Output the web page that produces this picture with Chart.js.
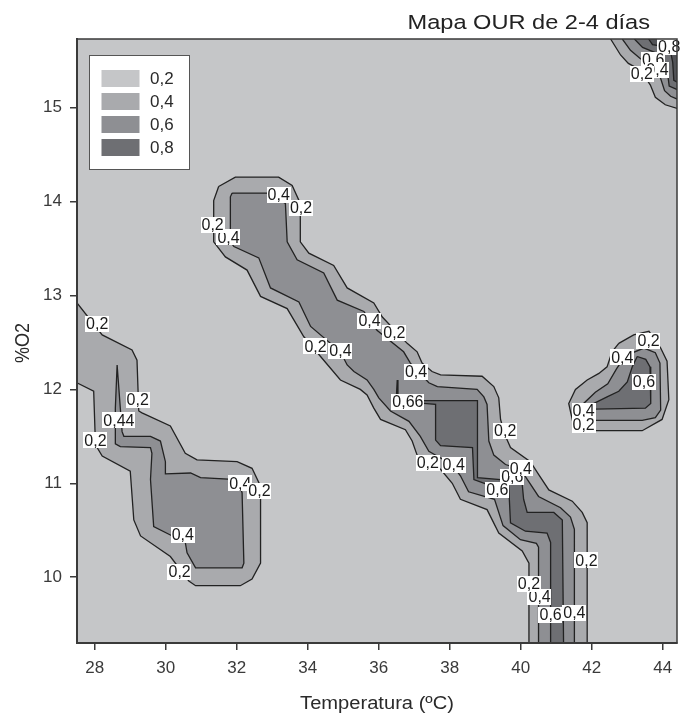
<!DOCTYPE html>
<html>
<head>
<meta charset="utf-8">
<script src="https://cdn.jsdelivr.net/npm/chart.js@4.4.0/dist/chart.umd.min.js"></script>
<style>
  html, body { margin: 0; padding: 0; background: #ffffff; }
  canvas { display: block; }
</style>
</head>
<body>
<canvas id="c" width="684" height="713"></canvas>
<script>
// ---------------- DATA ----------------
const chartTitle = 'Mapa OUR de 2-4 días';
const xTitle = 'Temperatura (ºC)';
const yTitle = '%O2';
const xTicks = [28, 30, 32, 34, 36, 38, 40, 42, 44];
const yTicks = [10, 11, 12, 13, 14, 15];
const xRange = [27.5, 44.4];
const yRange = [9.3, 15.73];
const levelLabels = ['0,2', '0,4', '0,6', '0,8'];

// contour polygons [temperature, %O2]
const leftBlob02 = [[27.3,12.92],[27.5,12.92],[28.21,12.58],[29.05,12.42],[29.19,12.31],[29.24,11.77],[29.33,11.75],[30.13,11.61],[30.55,11.32],[30.88,11.25],[32.01,11.23],[32.43,11.16],[32.67,10.97],[32.67,10.15],[32.43,9.98],[32.10,9.91],[30.84,9.91],[30.65,9.96],[30.13,10.22],[29.29,10.44],[29.10,10.61],[29.00,11.13],[28.21,11.29],[28.02,11.41],[27.97,11.98],[27.5,12.07],[27.3,12.07],[27.3,12.92]];
const leftBlob04 = [[28.63,12.26],[28.72,11.80],[28.77,11.55],[28.82,11.50],[29.57,11.50],[29.85,11.45],[29.99,11.23],[29.99,11.10],[30.70,11.11],[30.98,11.06],[32.01,11.04],[32.15,10.90],[32.20,10.15],[32.15,10.10],[30.84,10.10],[30.60,10.26],[30.55,10.37],[30.13,10.45],[29.66,10.54],[29.57,11.04],[29.61,11.32],[29.57,11.38],[28.72,11.39],[28.58,11.42],[28.58,11.80],[28.63,12.26]];
const band02 = [[31.49,14.16],[31.96,14.26],[33.18,14.26],[33.56,14.17],[33.79,13.98],[33.79,13.57],[34.03,13.45],[34.73,13.32],[35.11,13.08],[35.86,12.92],[36.10,12.77],[36.80,12.49],[37.08,12.40],[37.22,12.28],[37.50,12.19],[37.74,12.155],[38.91,12.14],[39.24,12.03],[39.38,11.91],[39.43,11.68],[39.57,11.50],[39.71,11.38],[40.27,11.23],[40.51,11.09],[40.79,10.93],[41.45,10.81],[41.73,10.69],[41.87,10.58],[41.87,9.1],[40.23,9.1],[40.23,10.15],[40.04,10.28],[39.38,10.47],[39.05,10.72],[38.30,10.83],[38.07,11.00],[37.74,11.15],[37.08,11.30],[36.94,11.45],[36.75,11.57],[36.05,11.68],[35.86,11.80],[35.67,11.94],[35.48,12.00],[34.92,12.10],[34.36,12.35],[33.89,12.56],[33.42,12.86],[32.67,12.99],[32.29,13.27],[31.68,13.41],[31.35,13.57],[31.35,14.01],[31.49,14.16]];
const band04 = [[31.87,14.09],[32.86,14.09],[33.37,13.98],[33.42,13.57],[33.70,13.38],[34.45,13.24],[34.83,12.95],[35.58,12.83],[35.95,12.63],[36.70,12.40],[36.89,12.28],[37.41,12.07],[37.65,12.03],[38.77,12.00],[38.96,11.92],[39.05,11.84],[39.10,11.45],[39.24,11.30],[39.57,11.20],[39.99,11.15],[40.22,11.02],[40.50,10.86],[41.12,10.74],[41.40,10.64],[41.51,10.51],[41.51,9.1],[40.50,9.1],[40.50,10.32],[40.44,10.36],[39.99,10.40],[39.50,10.55],[39.26,10.83],[38.53,10.91],[38.30,11.08],[38.08,11.19],[37.74,11.27],[37.41,11.34],[37.17,11.50],[36.85,11.66],[36.33,11.77],[36.00,11.91],[35.86,12.00],[35.67,12.10],[35.30,12.19],[35.11,12.26],[34.92,12.40],[34.08,12.67],[33.75,12.93],[32.95,13.08],[32.62,13.40],[31.92,13.52],[31.82,13.57],[31.82,14.05],[31.87,14.09]];
const band06 = [[36.52,12.10],[36.54,11.94],[36.61,11.88],[37.26,11.88],[38.78,11.88],[38.78,11.06],[39.43,11.04],[40.04,10.99],[40.08,10.83],[40.18,10.69],[40.93,10.69],[41.17,10.61],[41.21,9.1],[40.84,9.1],[40.84,10.37],[40.74,10.47],[40.13,10.49],[39.71,10.58],[39.66,10.97],[39.05,10.99],[38.68,11.04],[38.64,11.38],[37.74,11.40],[37.60,11.46],[37.60,11.84],[37.26,11.85],[36.55,11.85],[36.50,11.95],[36.52,12.10]];
const rightBlob02 = [[42.76,12.49],[43.18,12.58],[43.61,12.62],[43.94,12.44],[44.12,12.30],[44.17,11.89],[43.98,11.68],[43.42,11.56],[42.10,11.56],[41.49,11.61],[41.35,11.85],[41.54,12.00],[41.87,12.10],[42.20,12.17],[42.43,12.24],[42.57,12.40],[42.76,12.49]];
const rightBlob04 = [[41.68,11.73],[41.77,11.85],[42.10,11.97],[42.45,12.06],[42.70,12.22],[42.95,12.36],[43.47,12.44],[43.79,12.39],[43.92,12.28],[43.94,11.78],[43.79,11.70],[43.42,11.67],[42.06,11.67],[41.68,11.73]];
const rightBlob06 = [[43.28,12.35],[43.52,12.32],[43.64,12.24],[43.66,11.85],[43.51,11.80],[42.10,11.79],[42.06,11.85],[42.43,11.92],[42.76,11.98],[43.00,12.08],[43.14,12.24],[43.28,12.35]];
const corner02 = [[42.53,15.73],[42.81,15.56],[43.03,15.47],[43.37,15.40],[43.65,15.24],[43.79,15.11],[44.07,15.03],[44.41,14.99],[44.6,14.99],[44.6,15.9],[42.45,15.9],[42.53,15.73]];
const corner04 = [[42.86,15.73],[43.09,15.61],[43.37,15.52],[43.71,15.46],[43.94,15.31],[44.05,15.18],[44.22,15.12],[44.41,15.09],[44.6,15.09],[44.6,15.9],[42.8,15.9],[42.86,15.73]];
const corner06 = [[43.20,15.73],[43.43,15.64],[43.82,15.58],[44.02,15.50],[44.13,15.38],[44.18,15.23],[44.41,15.19],[44.6,15.19],[44.6,15.9],[43.15,15.9],[43.20,15.73]];
const corner08 = [[43.60,15.73],[43.71,15.67],[44.05,15.65],[44.22,15.59],[44.28,15.48],[44.31,15.29],[44.41,15.27],[44.6,15.27],[44.6,15.9],[43.55,15.9],[43.60,15.73]];

// contour labels
const labelTexts = ['0,2','0,2','0,44','0,2','0,4','0,2','0,4','0,2',
  '0,4','0,2','0,4','0,2','0,4','0,2','0,2','0,4','0,4','0,66',
  '0,2','0,2','0,4','0,6','0,4','0,6','0,2','0,4','0,2','0,6','0,4',
  '0,2','0,4','0,6','0,4','0,2',
  '0,8','0,6','0,4','0,2'];
const labelX = [28.07,29.21,28.68,28.02,32.10,32.64,30.48,30.39,
  33.18,33.81,31.77,31.32,35.74,36.44,34.22,34.92,37.05,36.82,
  39.56,37.38,38.11,39.76,40.00,39.34,41.85,40.53,40.23,40.84,41.51,
  43.60,42.86,43.47,41.77,41.77,
  44.18,43.73,43.85,43.41];
const labelY = [12.70,11.89,11.67,11.46,11.00,10.92,10.45,10.06,
  14.07,13.93,13.62,13.75,12.73,12.60,12.46,12.41,12.19,11.87,
  11.56,11.22,11.20,11.07,11.16,10.93,10.18,9.79,9.93,9.60,9.62,
  12.52,12.34,12.08,11.77,11.62,
  15.65,15.51,15.40,15.36];

// ---------------- STYLE ----------------
const BG = '#c5c6c8';
const FILLS = ['#a9aaad', '#8e8f93', '#6e6f73', '#525357'];
const LEGEND_COLORS = ['#c5c6c8', '#a9aaad', '#8e8f93', '#6e6f73'];
const LINE = '#222222';
const FONT = '"Liberation Sans", Arial, sans-serif';

function toPts(arr) { return arr.map(p => ({ x: p[0], y: p[1] })); }
function poly(arr, level) {
  return {
    data: toPts(arr),
    fill: 'shape',
    backgroundColor: FILLS[level],
    borderColor: LINE,
    borderWidth: 1.3,
    pointRadius: 0,
    tension: 0,
    order: 10 - level
  };
}

const datasets = [
  poly(leftBlob02, 0), poly(band02, 0), poly(rightBlob02, 0), poly(corner02, 0),
  poly(leftBlob04, 1), poly(band04, 1), poly(rightBlob04, 1), poly(corner04, 1),
  poly(band06, 2), poly(rightBlob06, 2), poly(corner06, 2),
  poly(corner08, 3)
];

const decor = {
  id: 'decor',
  beforeDraw(chart) {
    const { ctx, chartArea: a } = chart;
    ctx.save();
    ctx.fillStyle = '#ffffff';
    ctx.fillRect(0, 0, chart.width, chart.height);
    ctx.fillStyle = BG;
    ctx.fillRect(a.left, a.top, a.right - a.left, a.bottom - a.top);
    ctx.restore();
  },
  afterDatasetsDraw(chart) {
    const { ctx, chartArea: a } = chart;
    const xs = chart.scales.x, ys = chart.scales.y;
    ctx.save();
    ctx.font = '16px ' + FONT;
    ctx.textAlign = 'center';
    ctx.textBaseline = 'middle';
    for (let i = 0; i < labelTexts.length; i++) {
      const px = xs.getPixelForValue(labelX[i]);
      const py = ys.getPixelForValue(labelY[i]);
      const w = ctx.measureText(labelTexts[i]).width + 2;
      const h = 16;
      ctx.fillStyle = '#ffffff';
      ctx.fillRect(Math.round(px - w / 2), Math.round(py - h / 2), Math.round(w), h);
      ctx.fillStyle = '#1a1a1a';
      ctx.fillText(labelTexts[i], px, py + 1);
    }
    // frame
    ctx.strokeStyle = '#3a3a3a';
    ctx.lineWidth = 1.5;
    ctx.strokeRect(a.left, a.top, a.right - a.left, a.bottom - a.top);
    ctx.lineWidth = 2;
    ctx.beginPath();
    ctx.moveTo(a.left, a.top);
    ctx.lineTo(a.left, a.bottom);
    ctx.lineTo(a.right, a.bottom);
    ctx.stroke();
    ctx.restore();
  },
  afterDraw(chart) {
    const { ctx, chartArea: a } = chart;
    ctx.save();
    // legend
    ctx.fillStyle = '#ffffff';
    ctx.fillRect(89.5, 55, 100, 115);
    ctx.strokeStyle = '#555';
    ctx.lineWidth = 1;
    ctx.strokeRect(89.5, 55.5, 100, 114);
    ctx.font = '17px ' + FONT;
    ctx.textAlign = 'left';
    ctx.textBaseline = 'middle';
    for (let i = 0; i < levelLabels.length; i++) {
      const top = 70 + i * 23;
      ctx.fillStyle = LEGEND_COLORS[i];
      ctx.fillRect(101.5, top, 38, 17);
      ctx.fillStyle = '#2a2a2a';
      ctx.fillText(levelLabels[i], 150, top + 9);
    }
    // chart title (right aligned)
    ctx.fillStyle = '#222';
    ctx.textBaseline = 'alphabetic';
    ctx.save();
    ctx.translate(650, 28.5);
    ctx.scale(1.15, 1);
    ctx.font = '20.5px ' + FONT;
    ctx.textAlign = 'right';
    ctx.fillText(chartTitle, 0, 0);
    ctx.restore();
    // x title
    ctx.save();
    ctx.translate((a.left + a.right) / 2, 709);
    ctx.scale(1.15, 1);
    ctx.font = '17.5px ' + FONT;
    ctx.textAlign = 'center';
    ctx.fillStyle = '#2a2a2a';
    ctx.fillText(xTitle, 0, 0);
    ctx.restore();
    // y title
    ctx.save();
    ctx.translate(29, (a.top + a.bottom) / 2 + 2);
    ctx.rotate(-Math.PI / 2);
    ctx.scale(1, 1.15);
    ctx.font = '18px ' + FONT;
    ctx.textAlign = 'center';
    ctx.fillStyle = '#2a2a2a';
    ctx.fillText(yTitle, 0, 0);
    ctx.restore();
    ctx.restore();
  }
};

new Chart(document.getElementById('c'), {
  type: 'line',
  data: { datasets },
  options: {
    responsive: false,
    animation: false,
    events: [],
    layout: { padding: { left: 0, right: 7, top: 39, bottom: 0 } },
    plugins: { legend: { display: false }, tooltip: { enabled: false }, title: { display: false } },
    scales: {
      x: {
        type: 'linear',
        min: xRange[0], max: xRange[1],
        afterBuildTicks: s => { s.ticks = xTicks.map(v => ({ value: v })); },
        afterFit: s => { s.height = 70; },
        grid: { display: true, drawOnChartArea: false, drawTicks: true, tickLength: 7, color: '#3a3a3a', lineWidth: 1.5 },
        border: { display: true, color: '#3a3a3a', width: 2 },
        ticks: { font: { size: 17, family: FONT }, color: '#3a3a3a', padding: 8, maxRotation: 0, autoSkip: false,
                 callback: v => String(v) }
      },
      y: {
        type: 'linear',
        min: yRange[0], max: yRange[1],
        afterBuildTicks: s => { s.ticks = yTicks.map(v => ({ value: v })); },
        afterFit: s => { s.width = 77; },
        grid: { display: true, drawOnChartArea: false, drawTicks: true, tickLength: 7, color: '#3a3a3a', lineWidth: 1.5 },
        border: { display: true, color: '#3a3a3a', width: 2 },
        ticks: { font: { size: 17, family: FONT }, color: '#3a3a3a', padding: 8, autoSkip: false,
                 callback: v => String(v) }
      }
    }
  },
  plugins: [decor]
});
</script>
</body>
</html>
